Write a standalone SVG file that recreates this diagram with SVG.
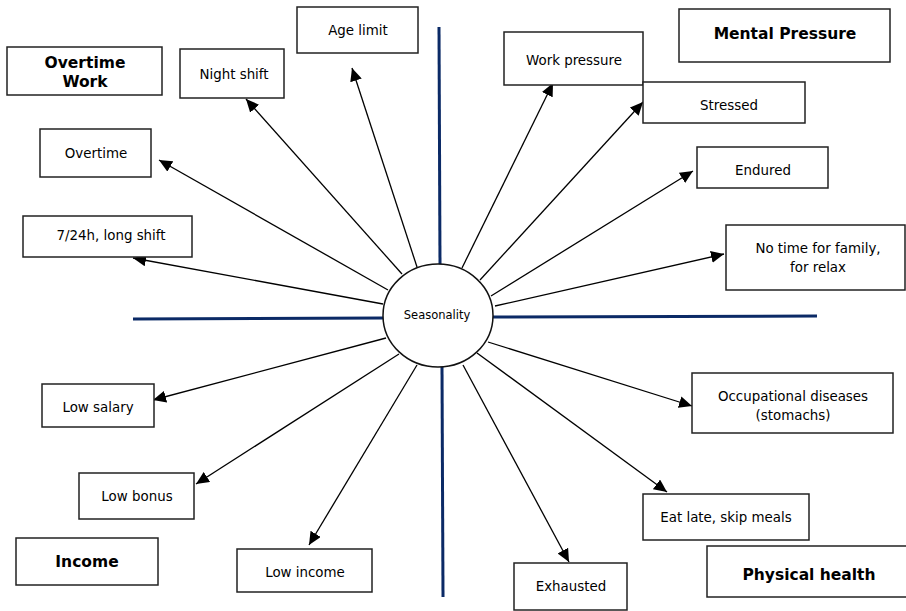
<svg xmlns="http://www.w3.org/2000/svg" width="906" height="611" viewBox="0 0 906 611">
<style>
.box{fill:#fff;stroke:#222;stroke-width:1.5}
.t{font-family:"DejaVu Sans",Verdana,sans-serif;font-size:13.4px;fill:#000;text-anchor:middle;dominant-baseline:central}
.b{font-weight:bold;font-size:15.5px}
.axis{stroke:#0b2a66;stroke-width:3;fill:none}
.arr{stroke:#000;stroke-width:1.3;fill:none;marker-end:url(#ah)}
</style>
<defs>
<marker id="ah" markerUnits="userSpaceOnUse" markerWidth="14" markerHeight="12" refX="13" refY="6" orient="auto">
<path d="M0,0 L13,6 L0,12 Z" fill="#000"/>
</marker>
</defs>
<rect width="906" height="611" fill="#fff"/>
<g id="axes">
<line class="axis" x1="439" y1="27" x2="440" y2="265"/>
<line class="axis" x1="442" y1="367" x2="443" y2="597"/>
<line class="axis" x1="133" y1="319" x2="383" y2="318"/>
<line class="axis" x1="493" y1="317" x2="817" y2="316"/>
</g>
<g id="connectors">
<line class="arr" x1="417" y1="267" x2="352" y2="68"/>
<line class="arr" x1="402" y1="274" x2="246" y2="99"/>
<line class="arr" x1="388" y1="290" x2="159" y2="160"/>
<line class="arr" x1="383" y1="304" x2="133" y2="258"/>
<line class="arr" x1="462" y1="268" x2="553" y2="83"/>
<line class="arr" x1="480" y1="280" x2="643" y2="102"/>
<line class="arr" x1="491" y1="296" x2="693" y2="171"/>
<line class="arr" x1="495" y1="306" x2="724" y2="254"/>
<line class="arr" x1="488" y1="342" x2="692" y2="406"/>
<line class="arr" x1="477" y1="353" x2="667" y2="492"/>
<line class="arr" x1="463" y1="365" x2="569" y2="562"/>
<line class="arr" x1="417" y1="365" x2="309" y2="545"/>
<line class="arr" x1="399" y1="354" x2="196" y2="484"/>
<line class="arr" x1="386" y1="338" x2="153" y2="400"/>
</g>
<g id="seasonality">
<ellipse cx="438" cy="315.5" rx="55" ry="51.5" fill="#fff" stroke="#111" stroke-width="1.5"/>
<text class="t" x="437" y="315" style="font-size:11.5px">Seasonality</text>
</g>
<g id="overtime-work">
<rect class="box" x="7" y="47" width="155" height="48"/>
<text class="t b" x="85" y="63">Overtime</text>
<text class="t b" x="85" y="82">Work</text>
</g>
<g id="night-shift">
<rect class="box" x="180" y="49" width="104" height="49"/>
<text class="t" x="234" y="74">Night shift</text>
</g>
<g id="age-limit">
<rect class="box" x="297" y="7" width="121" height="46"/>
<text class="t" x="358" y="30">Age limit</text>
</g>
<g id="overtime">
<rect class="box" x="40" y="129" width="111" height="48"/>
<text class="t" x="96" y="153">Overtime</text>
</g>
<g id="long-shift">
<rect class="box" x="23" y="216" width="169" height="41"/>
<text class="t" x="111" y="235">7/24h, long shift</text>
</g>
<g id="work-pressure">
<rect class="box" x="504" y="32" width="139" height="53"/>
<text class="t" x="574" y="60">Work pressure</text>
</g>
<g id="mental-pressure">
<rect class="box" x="679" y="9" width="211" height="53"/>
<text class="t b" x="785" y="34">Mental Pressure</text>
</g>
<g id="stressed">
<rect class="box" x="643" y="82" width="162" height="41"/>
<text class="t" x="729" y="105">Stressed</text>
</g>
<g id="endured">
<rect class="box" x="697" y="147" width="131" height="41"/>
<text class="t" x="763" y="170">Endured</text>
</g>
<g id="no-time">
<rect class="box" x="726" y="225" width="179" height="65"/>
<text class="t" x="818" y="248">No time for family,</text>
<text class="t" x="818" y="267">for relax</text>
</g>
<g id="low-salary">
<rect class="box" x="42" y="384" width="112" height="43"/>
<text class="t" x="98" y="407">Low salary</text>
</g>
<g id="low-bonus">
<rect class="box" x="79" y="473" width="115" height="46"/>
<text class="t" x="137" y="496">Low bonus</text>
</g>
<g id="income">
<rect class="box" x="16" y="538" width="142" height="47"/>
<text class="t b" x="87" y="562">Income</text>
</g>
<g id="low-income">
<rect class="box" x="237" y="549" width="135" height="43"/>
<text class="t" x="305" y="572">Low income</text>
</g>
<g id="occupational">
<rect class="box" x="692" y="373" width="201" height="60"/>
<text class="t" x="793" y="396">Occupational diseases</text>
<text class="t" x="793" y="415">(stomachs)</text>
</g>
<g id="eat-late">
<rect class="box" x="643" y="494" width="166" height="46"/>
<text class="t" x="726" y="517">Eat late, skip meals</text>
</g>
<g id="physical-health">
<rect class="box" x="707" y="546" width="200" height="51"/>
<text class="t b" x="809" y="575">Physical health</text>
</g>
<g id="exhausted">
<rect class="box" x="514" y="563" width="113" height="47"/>
<text class="t" x="571" y="586">Exhausted</text>
</g>
</svg>
